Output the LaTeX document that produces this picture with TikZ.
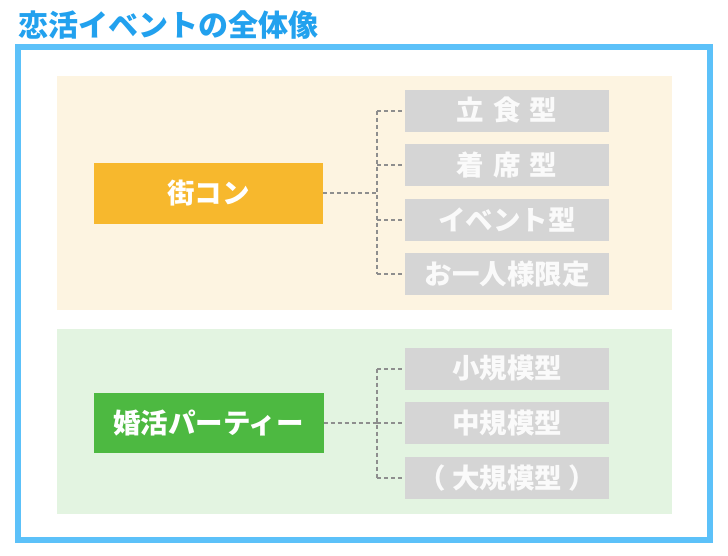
\documentclass[tikz,border=0pt]{standalone}
\usepackage{fontspec}
\setmainfont{Noto Sans CJK JP}
\definecolor{titleblue}{HTML}{22A1EE}
\definecolor{framecol}{HTML}{5CC1F9}
\definecolor{panelyellow}{HTML}{FDF4E1}
\definecolor{panelgreen}{HTML}{E3F4E1}
\definecolor{machicol}{HTML}{F7B82D}
\definecolor{konkatsucol}{HTML}{4DB941}
\definecolor{greybox}{HTML}{D5D5D5}
\definecolor{greytext}{HTML}{FAFAFA}
\definecolor{dashcol}{HTML}{8E8E8E}
\tikzset{
  mainbox/.style={inner sep=0pt, minimum width=229pt, minimum height=60pt,
    text=white, font=\fontsize{27.5pt}{31pt}\selectfont\bfseries},
  subbox/.style={fill=greybox, inner sep=0pt, minimum width=204pt, minimum height=42pt,
    text=greytext, font=\fontsize{27.5pt}{31pt}\selectfont\bfseries},
  conn/.style={draw=dashcol, line width=2pt, dash pattern=on 4pt off 3pt}
}
\begin{document}
\begin{tikzpicture}[x=1pt,y=-1pt]
\useasboundingbox (0,0) rectangle (728,555);
% title
\node[anchor=west, inner sep=0pt, text=titleblue, font=\fontsize{30pt}{33pt}\selectfont\bfseries] (title) at (18,25) {恋活イベントの全体像};
% frame
\draw[framecol, line width=6pt] (18,47) rectangle (710,540);
% panels
\fill[panelyellow] (57,76) rectangle (672,310);
\fill[panelgreen] (57,329) rectangle (672,514);
% main boxes
\node[mainbox, fill=machicol, minimum height=61pt] (machi) at (208.5,193) {街コン};
\node[mainbox, fill=konkatsucol, minimum width=230pt] (konkatsu) at (208.5,423) {婚活パーティー};
% sub boxes (machi)
\node[subbox] (a1) at (507,110.5) {立\hspace{9pt}食\hspace{9pt}型};
\node[subbox] (a2) at (507,165) {着\hspace{9pt}席\hspace{9pt}型};
\node[subbox] (a3) at (507,220) {イベント型};
\node[subbox] (a4) at (507,274) {お一人様限定};
% sub boxes (konkatsu)
\node[subbox] (b1) at (507,368.5) {小規模型};
\node[subbox] (b2) at (507,423) {中規模型};
\node[subbox] (b3) at (507,478) {（ 大規模型 ）};
% connectors
\coordinate (ja) at (377,193);
\coordinate (jb) at (377,423);
\draw[conn] (machi.east) -- (ja);
\draw[conn] (ja |- a1.west) -- (ja |- a4.west);
\foreach \n in {a1,a2,a3,a4} \draw[conn] (ja |- \n.west) -- (\n.west);
\draw[conn] (konkatsu.east) -- (jb);
\draw[conn] (jb |- b1.west) -- (jb |- b3.west);
\foreach \n in {b1,b2,b3} \draw[conn] (jb |- \n.west) -- (\n.west);
\end{tikzpicture}
\end{document}
